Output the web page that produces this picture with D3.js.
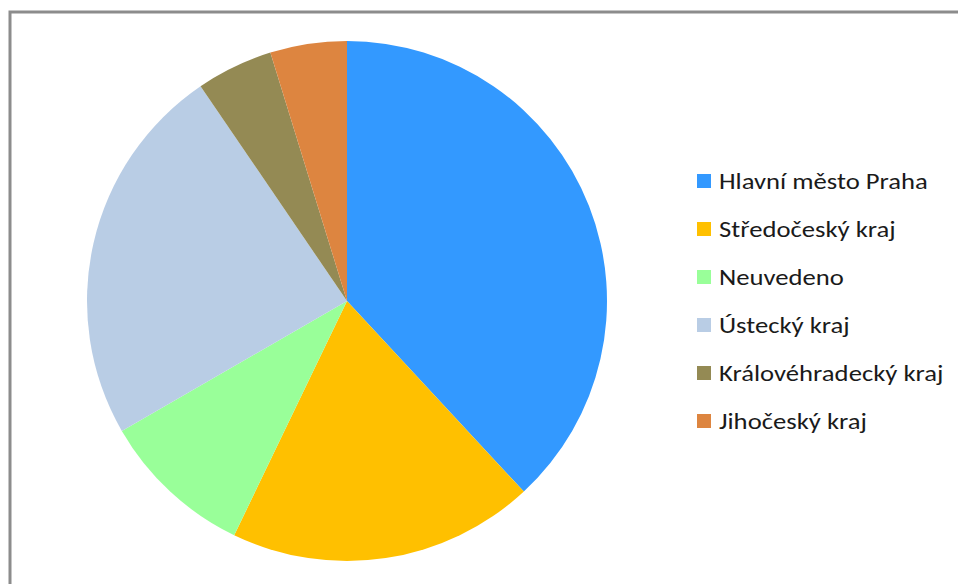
<!DOCTYPE html>
<html><head><meta charset="utf-8">
<script src="https://cdn.jsdelivr.net/npm/d3@7"></script>
<style>body{margin:0;background:#fff}svg{display:block}</style>
</head><body>
<svg id="c" width="958" height="584"></svg>
<script>
const categories = ["Hlavní město Praha","Středočeský kraj","Neuvedeno","Ústecký kraj","Královéhradecký kraj","Jihočeský kraj"];
const values = [8,4,2,5,1,1];
const colors = ["#3399FF","#FFC000","#99FF99","#B9CDE5","#948A54","#DD8540"];

const svg = d3.select("#c");
svg.append("rect").attr("x",10).attr("y",12).attr("width",1000).attr("height",1000)
  .attr("fill","none").attr("stroke","#8c8c8c").attr("stroke-width",3);

const cx = 347, cy = 301, r = 260;
const pie = d3.pie().sort(null).value(d=>d)(values);
const arc = d3.arc().innerRadius(0).outerRadius(r);
const color = d3.scaleOrdinal().domain(categories).range(colors);
svg.append("g").attr("transform",`translate(${cx},${cy})`)
  .selectAll("path").data(pie).join("path")
  .attr("d",arc).attr("fill",(d,i)=>color(categories[i]));

const leg = svg.append("g");
const y = d3.scalePoint().domain(categories).range([181,421]);
const items = leg.selectAll("g").data(categories).join("g")
  .attr("transform",d=>`translate(697,${y(d)})`);
items.append("rect").attr("x",0).attr("y",-7).attr("width",14).attr("height",14).attr("fill",d=>color(d));
const texts = items.append("text").attr("x",0).attr("y",0).attr("dy","0.35em")
  .attr("font-family","Carlito, Lato, 'Open Sans', sans-serif").attr("font-size",22).attr("fill","#1a1a1a")
  .text(d=>d);
const w0 = texts.node().getComputedTextLength();
const sx = 209 / w0;
texts.attr("transform",`translate(22,0) scale(${sx},1)`);
</script>
</body></html>
